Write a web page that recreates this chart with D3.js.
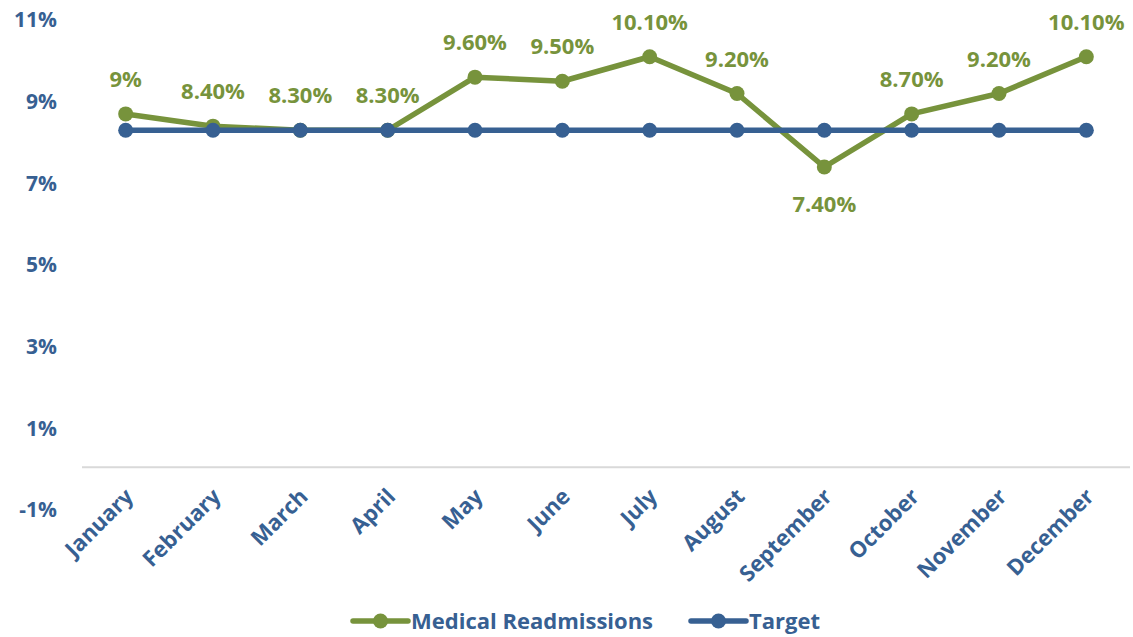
<!DOCTYPE html>
<html>
<head>
<meta charset="utf-8">
<script src="https://cdn.jsdelivr.net/npm/d3@7"></script>
<style>
  html, body { margin: 0; padding: 0; background: #fff; }
  svg text { font-family: "Open Sans", Lato, sans-serif; font-weight: bold; }
</style>
</head>
<body>
<div id="chart"></div>
<script>
var months = ['January', 'February', 'March', 'April', 'May', 'June', 'July',
    'August', 'September', 'October', 'November', 'December'];
var readmissions = [8.7, 8.4, 8.3, 8.3, 9.6, 9.5, 10.1, 9.2, 7.4, 8.7, 9.2, 10.1];
var readmissionLabels = ['9%', '8.40%', '8.30%', '8.30%', '9.60%', '9.50%', '10.10%',
    '9.20%', '7.40%', '8.70%', '9.20%', '10.10%'];
var target = [8.3, 8.3, 8.3, 8.3, 8.3, 8.3, 8.3, 8.3, 8.3, 8.3, 8.3, 8.3];
var yTicks = [-1, 1, 3, 5, 7, 9, 11];

var width = 1133, height = 637;
var green = '#77933c', blue = '#376092';

var svg = d3.select('#chart').append('svg')
    .attr('width', width)
    .attr('height', height);

var x = d3.scaleBand()
    .domain(months)
    .range([82, 1130]);

var y = d3.scaleLinear()
    .domain([-1, 11])
    .range([510, 20]);

function cx(d, i) { return x(months[i]) + x.bandwidth() / 2; }

// Y tick labels (no gridlines).
svg.append('g')
    .selectAll('text')
    .data(yTicks)
    .enter()
    .append('text')
    .attr('x', 57)
    .attr('y', d => y(d))
    .attr('dy', '0.35em')
    .attr('text-anchor', 'end')
    .attr('fill', blue)
    .style('font-size', '21px')
    .text(d => d + '%');

// Category axis at zero.
svg.append('line')
    .attr('x1', 82)
    .attr('x2', 1130)
    .attr('y1', y(0) - 2)
    .attr('y2', y(0) - 2)
    .attr('stroke', '#d9d9d9')
    .attr('stroke-width', 2);

svg.append('g')
    .selectAll('text')
    .data(months)
    .enter()
    .append('text')
    .attr('transform', (d, i) => 'translate(' + (cx(d, i) + 9) + ',' + 498 + ') rotate(-45)')
    .attr('text-anchor', 'end')
    .attr('fill', blue)
    .style('font-size', '22px')
    .text(d => d);

var line = d3.line()
    .x(cx)
    .y(d => y(d));

function drawSeries(values, color) {
    svg.append('path')
        .datum(values)
        .attr('d', line)
        .attr('fill', 'none')
        .attr('stroke', color)
        .attr('stroke-width', 5.5)
        .attr('stroke-linejoin', 'round');

    svg.append('g')
        .selectAll('circle')
        .data(values)
        .enter()
        .append('circle')
        .attr('cx', cx)
        .attr('cy', d => y(d))
        .attr('r', 7.5)
        .attr('fill', color);
}

drawSeries(readmissions, green);
drawSeries(target, blue);

// Data labels: above, except where the value dips below target.
svg.append('g')
    .selectAll('text')
    .data(readmissions)
    .enter()
    .append('text')
    .attr('x', cx)
    .attr('y', (d, i) => d < target[i] ? y(d) + 45 : y(d) - 27)
    .attr('text-anchor', 'middle')
    .attr('fill', green)
    .style('font-size', '22px')
    .text((d, i) => readmissionLabels[i]);

// Legend.
var legend = [
    { name: 'Medical Readmissions', color: green, x: 353 },
    { name: 'Target', color: blue, x: 691 }
];
var lg = svg.append('g')
    .selectAll('g')
    .data(legend)
    .enter()
    .append('g')
    .attr('transform', d => 'translate(' + d.x + ',621)');

lg.append('line')
    .attr('x1', 0)
    .attr('x2', 55)
    .attr('stroke', d => d.color)
    .attr('stroke-width', 5.5)
    .attr('stroke-linecap', 'round');

lg.append('circle')
    .attr('cx', 27.5)
    .attr('r', 7.5)
    .attr('fill', d => d.color);

lg.append('text')
    .attr('x', 58)
    .attr('dy', '0.35em')
    .attr('fill', blue)
    .style('font-size', '22px')
    .text(d => d.name);
</script>
</body>
</html>
